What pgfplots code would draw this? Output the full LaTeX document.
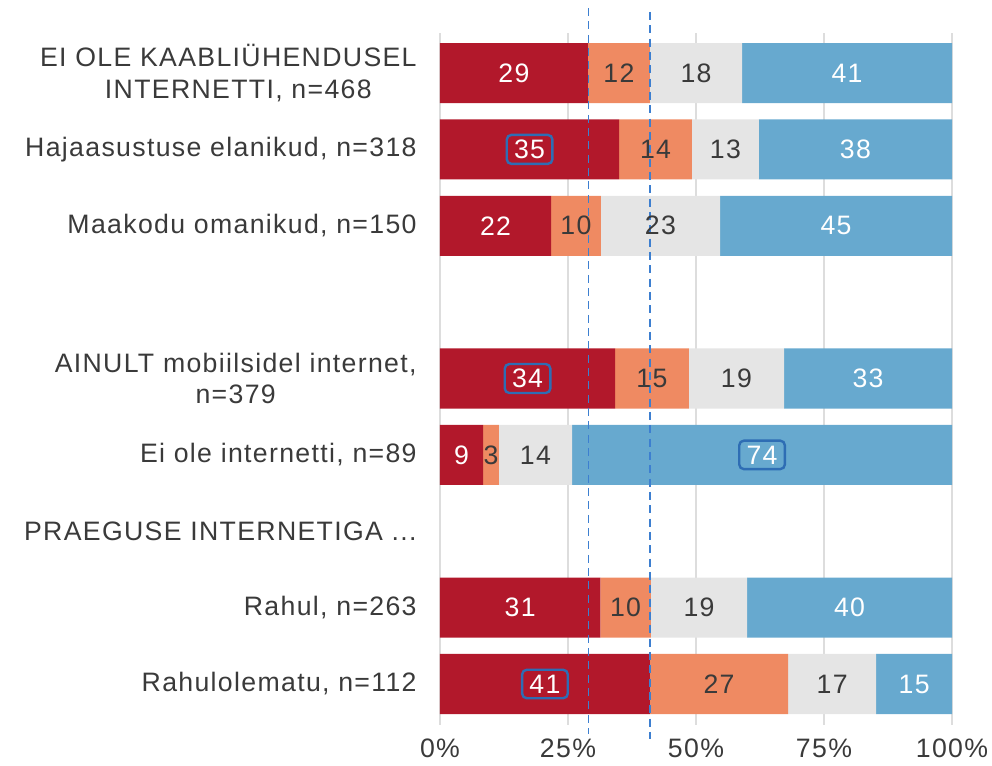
\documentclass[border=0pt]{standalone}
\usepackage{fontspec}
\setmainfont{Liberation Sans}[LetterSpace=5]
\usepackage{pgfplots}
\usepackage{pgfplotstable}
\pgfplotsset{compat=1.18}
\definecolor{cRed}{HTML}{B2182B}
\definecolor{cOrg}{HTML}{EF8A62}
\definecolor{cGry}{HTML}{E5E5E5}
\definecolor{cBlu}{HTML}{67A9CF}
\definecolor{cTxt}{HTML}{3A3A3A}
\definecolor{cBox}{HTML}{2E6DB4}
\definecolor{cDash}{HTML}{3D7FD0}
\definecolor{cGrid}{HTML}{DDDDDD}

\pgfplotstableread{
row a b c d
0 28.9 12.1 18.0 41.0
1 35.0 14.2 13.1 37.7
2 21.7 9.7 23.3 45.3
4 34.2 14.4 18.6 32.8
5 8.4 3.1 14.3 74.2
7 31.3 9.9 18.8 40.0
8 41.0 27.0 17.2 14.8
}\bars

\pgfplotstableread{
x y lab
14.45 0 29
79.5 0 41
81.15 1 38
10.85 2 22
77.35 2 45
83.6 4 33
4.2 5 9
15.65 7 31
80.0 7 40
92.6 8 15
}\whitelabs

\pgfplotstableread{
x y lab
34.95 0 12
50.0 0 18
42.1 1 14
55.75 1 13
26.55 2 10
43.05 2 23
41.4 4 15
57.9 4 19
9.95 5 3
18.65 5 14
36.25 7 10
50.6 7 19
54.5 8 27
76.6 8 17
}\darklabs

\pgfplotstableread{
x y lab
17.5 1 35
17.1 4 34
62.9 5 74
20.5 8 41
}\boxlabs

\newcommand{\lblfont}{\fontsize{20}{23.5}\selectfont}

\pgfplotsset{
  common/.style={
    scale only axis, width=384pt, height=519pt,
    xmin=0, xmax=100, ymin=-0.524, ymax=8.537, y dir=reverse,
  },
}

\begin{document}
\begin{tikzpicture}
\path[use as bounding box] (-330pt,-30pt) rectangle (414pt,543.75pt);
\begin{axis}[
  common,
  axis line style={draw=none},
  major tick length=0pt,
  xtick={0,25,50,75,100},
  xticklabel={\pgfmathprintnumber{\tick}\%},
  /pgf/number format/assume math mode=true,
  xmajorgrids,
  grid style={cGrid, line width=1.1pt},
  ytick={0,1,2,3,4,5,6,7,8},
  yticklabels={
    {EI OLE KAABLIÜHENDUSEL\\\hspace*{15pt}INTERNETTI, n=468},
    {Hajaasustuse elanikud, n=318},
    {Maakodu omanikud, n=150},
    {},
    {AINULT mobiilsidel internet,\\n=379},
    {Ei ole internetti, n=89},
    {PRAEGUSE INTERNETIGA {.}{.}{.}},
    {Rahul, n=263},
    {Rahulolematu, n=112}},
  tick label style={font=\lblfont, text=cTxt},
  yticklabel style={align=center, xshift=-14pt},
  xticklabel style={yshift=-7pt},
  xbar stacked,
  bar width=0.786,
]
\addplot[fill=cRed, draw=none] table[x=a, y=row]{\bars};
\addplot[fill=cOrg, draw=none] table[x=b, y=row]{\bars};
\addplot[fill=cGry, draw=none] table[x=c, y=row]{\bars};
\addplot[fill=cBlu, draw=none] table[x=d, y=row]{\bars};
\end{axis}
\begin{axis}[
  common,
  hide axis,
  clip=false,
]
\addplot[draw=none, mark=none, nodes near coords, point meta=explicit symbolic,
  every node near coord/.append style={anchor=center, text=white, font=\lblfont}]
  table[x=x, y=y, meta=lab]{\whitelabs};
\addplot[draw=none, mark=none, nodes near coords, point meta=explicit symbolic,
  every node near coord/.append style={anchor=center, text=cTxt, font=\lblfont}]
  table[x=x, y=y, meta=lab]{\darklabs};
\addplot[draw=none, mark=none, nodes near coords, point meta=explicit symbolic,
  every node near coord/.append style={anchor=center, text=white, font=\lblfont,
    draw=cBox, line width=1.8pt, rounded corners=3.5pt, inner xsep=5.5pt, inner ysep=3.8pt}]
  table[x=x, y=y, meta=lab]{\boxlabs};
\addplot[cDash, line width=1.1pt, dash pattern=on 6pt off 4pt] coordinates {(29,-0.85) (29,8.66)};
\addplot[cDash, line width=1.1pt, dash pattern=on 6pt off 4pt] coordinates {(41,-0.80) (41,8.72)};
\end{axis}
\end{tikzpicture}
\end{document}
